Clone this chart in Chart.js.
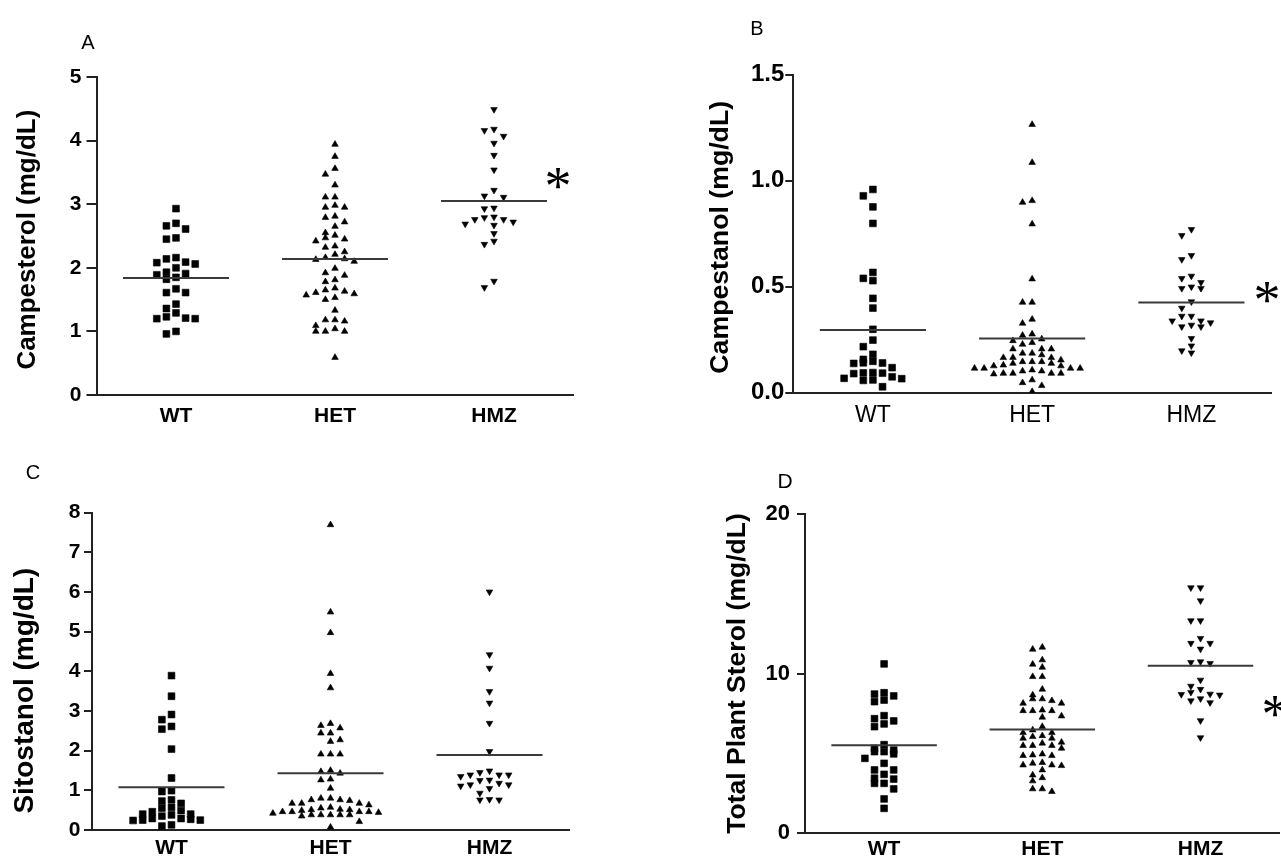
<!DOCTYPE html>
<html>
<head>
<meta charset="utf-8">
<script src="https://cdn.jsdelivr.net/npm/chart.js@4.4.1/dist/chart.umd.min.js"></script>
<style>
  html, body { margin: 0; padding: 0; background: #fff; width: 1281px; height: 862px; overflow: hidden; }
  canvas { position: absolute; }
  .lbl { position: absolute; font-family: "Liberation Sans", Arial, Helvetica, sans-serif; color: #000; line-height: 1; transform: translate(-50%, -50%); white-space: nowrap; }
  .star { position: absolute; font-family: "Liberation Serif", "DejaVu Serif", serif; color: #000; line-height: 1; transform: translate(-50%, -50%); }
</style>
</head>
<body>
<canvas id="cA" width="640" height="440" style="left:0px;top:0px"></canvas>
<canvas id="cB" width="641" height="440" style="left:640px;top:0px"></canvas>
<canvas id="cC" width="640" height="422" style="left:0px;top:440px"></canvas>
<canvas id="cD" width="645" height="422" style="left:640px;top:440px"></canvas>

<div class="lbl" style="left:88px;top:42px;font-size:20px">A</div>
<div class="lbl" style="left:757px;top:28px;font-size:20px">B</div>
<div class="lbl" style="left:33px;top:472px;font-size:20px">C</div>
<div class="lbl" style="left:785px;top:480px;font-size:21px">D</div>

<div class="star" style="left:558px;top:186px;font-size:54px">*</div>
<div class="star" style="left:1267px;top:300px;font-size:54px">*</div>
<div class="star" style="left:1275px;top:714px;font-size:54px">*</div>

<script>
// ---------------- data ----------------
const categories = ['WT', 'HET', 'HMZ'];

const campesterolWT  = [2.93, 2.70, 2.66, 2.61, 2.47, 2.45, 2.16, 2.14, 2.09, 2.08, 2.06, 2.00, 1.93, 1.91, 1.89, 1.85, 1.82, 1.67, 1.61, 1.61, 1.43, 1.36, 1.29, 1.23, 1.21, 1.20, 1.20, 1.00, 0.96];
const campesterolHET = [3.94, 3.75, 3.56, 3.47, 3.30, 3.11, 3.11, 2.98, 2.95, 2.95, 2.81, 2.79, 2.72, 2.65, 2.55, 2.51, 2.47, 2.45, 2.42, 2.34, 2.32, 2.25, 2.21, 2.16, 2.14, 2.13, 2.10, 1.99, 1.92, 1.88, 1.81, 1.78, 1.68, 1.65, 1.63, 1.61, 1.59, 1.57, 1.53, 1.50, 1.33, 1.18, 1.18, 1.16, 1.09, 1.04, 1.00, 1.00, 1.00, 0.59];
const campesterolHMZ = [4.49, 4.18, 4.16, 4.07, 3.96, 3.77, 3.54, 3.22, 3.13, 3.11, 2.94, 2.93, 2.80, 2.79, 2.76, 2.76, 2.72, 2.69, 2.67, 2.54, 2.42, 2.37, 1.79, 1.69];
const campesterolMeans = [1.84, 2.14, 3.05];
const campesterolTicks = [0, 1, 2, 3, 4, 5];
const campesterolTickLabels = ['0', '1', '2', '3', '4', '5'];

const campestanolWT  = [0.958, 0.928, 0.876, 0.798, 0.567, 0.539, 0.528, 0.445, 0.399, 0.299, 0.248, 0.217, 0.181, 0.157, 0.148, 0.141, 0.140, 0.138, 0.118, 0.095, 0.093, 0.092, 0.090, 0.075, 0.068, 0.066, 0.060, 0.058, 0.028];
const campestanolHET = [1.264, 1.085, 0.905, 0.897, 0.795, 0.536, 0.426, 0.426, 0.346, 0.327, 0.276, 0.270, 0.253, 0.245, 0.236, 0.228, 0.206, 0.206, 0.206, 0.186, 0.186, 0.178, 0.166, 0.165, 0.165, 0.154, 0.146, 0.146, 0.146, 0.138, 0.138, 0.130, 0.126, 0.126, 0.115, 0.115, 0.115, 0.115, 0.107, 0.102, 0.102, 0.091, 0.091, 0.091, 0.091, 0.088, 0.060, 0.047, 0.033, 0.005];
const campestanolHMZ = [0.770, 0.741, 0.647, 0.628, 0.550, 0.539, 0.520, 0.499, 0.492, 0.492, 0.429, 0.399, 0.361, 0.361, 0.339, 0.339, 0.330, 0.319, 0.311, 0.311, 0.256, 0.221, 0.198, 0.188];
const campestanolMeans = [0.295, 0.256, 0.425];
const campestanolTicks = [0, 0.5, 1.0, 1.5];
const campestanolTickLabels = ['0.0', '0.5', '1.0', '1.5'];

const sitostanolWT  = [3.89, 3.37, 2.91, 2.78, 2.61, 2.54, 2.04, 1.31, 0.99, 0.97, 0.76, 0.73, 0.67, 0.57, 0.55, 0.49, 0.46, 0.40, 0.40, 0.38, 0.35, 0.29, 0.29, 0.27, 0.25, 0.25, 0.24, 0.13, 0.10];
const sitostanolHET = [7.69, 5.49, 4.97, 3.94, 3.58, 2.68, 2.63, 2.57, 2.44, 2.44, 2.27, 2.23, 1.91, 1.91, 1.91, 1.50, 1.47, 1.43, 1.28, 1.26, 1.05, 0.80, 0.80, 0.76, 0.76, 0.74, 0.67, 0.67, 0.67, 0.63, 0.57, 0.55, 0.52, 0.51, 0.51, 0.49, 0.46, 0.46, 0.46, 0.46, 0.44, 0.42, 0.38, 0.38, 0.38, 0.38, 0.38, 0.35, 0.21, 0.07];
const sitostanolHMZ = [6.00, 4.42, 4.08, 3.49, 3.20, 2.69, 1.98, 1.49, 1.45, 1.39, 1.39, 1.39, 1.35, 1.26, 1.25, 1.18, 1.14, 1.14, 1.11, 1.05, 0.93, 0.77, 0.76, 0.76];
const sitostanolMeans = [1.08, 1.43, 1.89];
const sitostanolTicks = [0, 1, 2, 3, 4, 5, 6, 7, 8];
const sitostanolTickLabels = ['0', '1', '2', '3', '4', '5', '6', '7', '8'];

const totalWT  = [10.60, 8.79, 8.71, 8.59, 8.33, 8.23, 7.35, 7.16, 7.02, 6.83, 6.66, 5.53, 5.30, 5.19, 5.09, 5.09, 4.95, 4.67, 4.36, 3.94, 3.94, 3.67, 3.42, 3.37, 3.10, 3.10, 2.75, 2.12, 1.53];
const totalHET = [11.65, 11.52, 10.85, 10.58, 10.39, 9.80, 9.80, 9.01, 8.65, 8.40, 8.40, 8.29, 8.13, 8.13, 7.70, 7.66, 7.66, 7.66, 7.33, 7.25, 6.66, 6.45, 6.28, 6.28, 6.09, 6.03, 5.93, 5.93, 5.68, 5.62, 5.47, 5.47, 5.47, 5.30, 4.94, 4.88, 4.84, 4.84, 4.40, 4.36, 4.25, 4.25, 4.21, 3.94, 3.62, 3.45, 3.25, 2.75, 2.75, 2.58];
const totalHMZ = [15.39, 15.39, 14.57, 13.32, 13.32, 12.21, 11.90, 11.90, 11.54, 10.74, 10.70, 10.64, 9.59, 9.21, 9.01, 8.82, 8.71, 8.69, 8.65, 8.42, 8.29, 8.17, 7.04, 5.97];
const totalMeans = [5.49, 6.49, 10.48];
const totalTicks = [0, 10, 20];
const totalTickLabels = ['0', '10', '20'];

// ---------------- styling / layout ----------------
const FONT = '"Liberation Sans", Arial, Helvetica, sans-serif';
const AXIS_COLOR = '#222';
const MEAN_COLOR = '#3a3a3a';
const STEP_PX = 9.6;     // horizontal spacing between neighbouring symbols
const ROW_PX = 7;        // symbols closer than this (vertically) share a row
const MEAN_HALF = 1 / 3; // half width of the mean bar, in category units

const markerStyles = [
  { pointStyle: 'rect', radius: 4.8, rotation: 0 },
  { pointStyle: 'triangle', radius: 3.8, rotation: 0 },
  { pointStyle: 'triangle', radius: 3.8, rotation: 180 }
];

Chart.defaults.font.family = FONT;
Chart.defaults.color = '#000';

function slotOrder(k) {
  if (k === 0) return 0;
  const m = Math.ceil(k / 2);
  return (k % 2) ? -m : m;
}

// row-based dot-plot layout: values closer than one symbol height share a row,
// and each row is spread sideways from the centre outwards
function swarmSlots(values, pxPerUnit) {
  const order = values.map((v, i) => i).sort((a, b) => values[b] - values[a]);
  const slots = new Array(values.length).fill(0);
  let rowStart = null, k = 0;
  order.forEach(i => {
    const y = values[i] * pxPerUnit;
    if (rowStart === null || rowStart - y >= ROW_PX) { rowStart = y; k = 0; }
    slots[i] = slotOrder(k++);
  });
  return slots;
}

const panels = [
  { id: 'cA', series: [campesterolWT, campesterolHET, campesterolHMZ], means: campesterolMeans,
    ticks: campesterolTicks, tickLabels: campesterolTickLabels,
    title: 'Campesterol (mg/dL) ', titleSize: 26, titlePad: 15.3,
    yWidth: 96.5, padTop: 77, padRight: 66.5, xHeight: 45,
    tickSize: 21, tickLen: 10, tickPad: 5, catSize: 21, catWeight: 'bold', catPad: 11 },
  { id: 'cB', series: [campestanolWT, campestanolHET, campestanolHMZ], means: campestanolMeans,
    ticks: campestanolTicks, tickLabels: campestanolTickLabels,
    title: 'Campestanol (mg/dL) ', titleSize: 26.7, titlePad: 67.5,
    yWidth: 153.3, padTop: 74.5, padRight: 10, xHeight: 47.3,
    tickSize: 24, tickLen: 8, tickPad: 1, catSize: 23, catWeight: 'normal', catPad: 11 },
  { id: 'cC', series: [sitostanolWT, sitostanolHET, sitostanolHMZ], means: sitostanolMeans,
    ticks: sitostanolTicks, tickLabels: sitostanolTickLabels,
    title: 'Sitostanol (mg/dL)     ', titleSize: 28, titlePad: 11,
    yWidth: 92, padTop: 72.5, padRight: 71, xHeight: 32,
    tickSize: 21, tickLen: 8, tickPad: 3.5, catSize: 21, catWeight: 'bold', catPad: 8 },
  { id: 'cD', series: [totalWT, totalHET, totalHMZ], means: totalMeans,
    ticks: totalTicks, tickLabels: totalTickLabels,
    title: 'Total Plant Sterol (mg/dL)', titleSize: 26.5, titlePad: 84,
    yWidth: 165, padTop: 74.3, padRight: 3, xHeight: 29.3,
    tickSize: 22, tickLen: 8, tickPad: 7, catSize: 21, catWeight: 'bold', catPad: 6.3 }
];

function buildPanel(p) {
  const datasets = [];
  p.series.forEach((vals, ci) => {
    const m = markerStyles[ci];
    datasets.push({
      label: categories[ci],
      data: vals.map(v => ({ x: ci + 0.5, y: v })),
      pointStyle: m.pointStyle,
      pointRadius: m.radius,
      pointHoverRadius: m.radius,
      pointRotation: m.rotation,
      backgroundColor: '#000',
      borderColor: '#000',
      pointBorderWidth: 0.6,
      showLine: false,
      order: 2
    });
  });
  p.means.forEach((mv, ci) => {
    datasets.push({
      label: categories[ci] + ' mean',
      data: [{ x: ci + 0.5 - MEAN_HALF, y: mv }, { x: ci + 0.5 + MEAN_HALF, y: mv }],
      showLine: true,
      borderColor: MEAN_COLOR,
      borderWidth: 2,
      pointRadius: 0,
      pointHoverRadius: 0,
      order: 1
    });
  });

  const yMax = p.ticks[p.ticks.length - 1];
  const chart = new Chart(document.getElementById(p.id), {
    type: 'scatter',
    data: { datasets },
    options: {
      responsive: false,
      animation: false,
      devicePixelRatio: 1,
      events: [],
      layout: { padding: { left: 0, top: p.padTop, right: p.padRight, bottom: 0 } },
      plugins: { legend: { display: false }, tooltip: { enabled: false } },
      scales: {
        x: {
          type: 'linear', min: 0, max: categories.length,
          afterBuildTicks: s => { s.ticks = categories.map((c, i) => ({ value: i + 0.5 })); },
          afterFit: s => { s.height = p.xHeight; },
          grid: { display: false, drawTicks: false },
          border: { display: true, color: AXIS_COLOR, width: 2 },
          ticks: {
            autoSkip: false, maxRotation: 0, minRotation: 0, padding: p.catPad,
            color: '#000',
            font: { size: p.catSize, weight: p.catWeight, lineHeight: 1 },
            callback: v => categories[Math.floor(v)]
          }
        },
        y: {
          type: 'linear', min: 0, max: yMax,
          afterBuildTicks: s => { s.ticks = p.ticks.map(v => ({ value: v })); },
          afterFit: s => { s.width = p.yWidth; },
          grid: { display: true, drawOnChartArea: false, drawTicks: true, tickLength: p.tickLen, color: AXIS_COLOR, lineWidth: 2 },
          border: { display: true, color: AXIS_COLOR, width: 2 },
          ticks: {
            padding: p.tickPad, color: '#000',
            font: { size: p.tickSize, weight: 'bold', lineHeight: 1 },
            callback: v => p.tickLabels[p.ticks.indexOf(v)]
          },
          title: {
            display: true, text: p.title, color: '#000',
            font: { size: p.titleSize, weight: 'bold', lineHeight: 1 },
            padding: { top: p.titlePad, bottom: 0 }
          }
        }
      }
    }
  });

  // spread the symbols sideways through the library's own scales
  const ys = chart.scales.y, xs = chart.scales.x;
  const pxPerUnit = Math.abs(ys.getPixelForValue(1) - ys.getPixelForValue(0));
  const xUnitPx = Math.abs(xs.getPixelForValue(1) - xs.getPixelForValue(0));
  p.series.forEach((vals, ci) => {
    const slots = swarmSlots(vals, pxPerUnit);
    chart.data.datasets[ci].data = vals.map((v, i) => ({ x: ci + 0.5 + slots[i] * STEP_PX / xUnitPx, y: v }));
  });
  chart.update('none');
  return chart;
}

panels.forEach(buildPanel);
</script>
</body>
</html>
